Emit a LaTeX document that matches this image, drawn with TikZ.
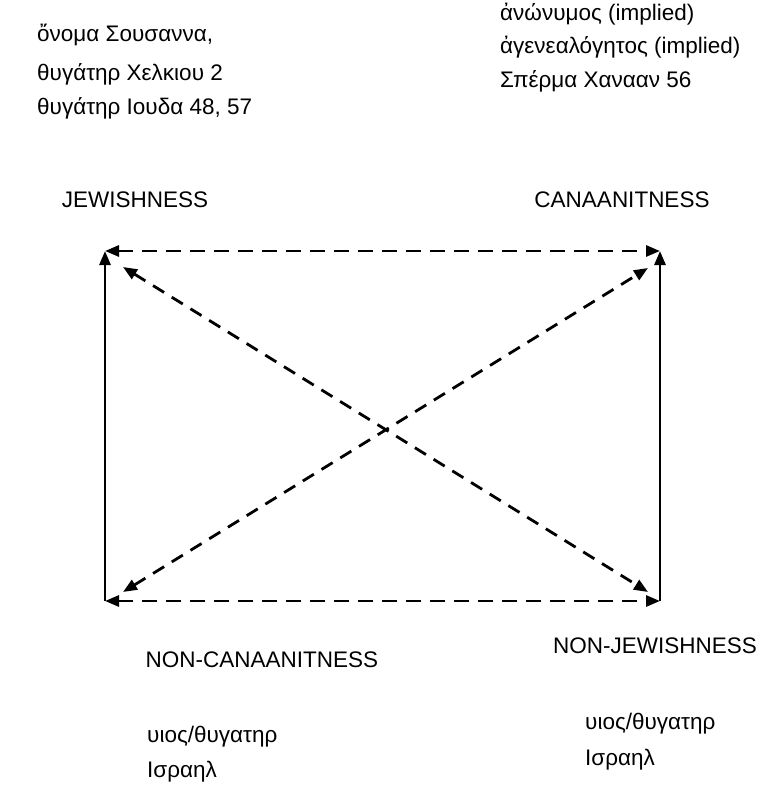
\documentclass[tikz,border=0pt]{standalone}
\usepackage{fontspec}
\setmainfont{Liberation Sans}
\usetikzlibrary{arrows.meta}
\begin{document}
\begin{tikzpicture}[x=1pt,y=-1pt,
  txt/.style={inner sep=0pt,anchor=west,font=\fontsize{22.5}{27}\selectfont},
  lbl/.style={inner sep=0pt,font=\fontsize{22.5}{27}\selectfont},
  tip/.style={-{Triangle[length=14pt,width=11pt]}},
  twotip/.style={{Triangle[length=14pt,width=11pt]}-{Triangle[length=14pt,width=11pt]}},
  edge/.style={line width=2.8pt},
  dashedge/.style={line width=2.8pt,dash pattern=on 15pt off 9pt},
  diagedge/.style={line width=2.8pt,dash pattern=on 13pt off 9pt}]
\useasboundingbox (0,0) rectangle (770,786);

% Greek descriptions above the square
\node[txt] (l1) at (37,35)  {ὄνομα Σουσαννα,};
\node[txt] (l2) at (37,74)  {θυγάτηρ Χελκιου 2};
\node[txt] (l3) at (37,108) {θυγάτηρ Ιουδα 48, 57};
\node[txt] (r1) at (500,14) {ἀνώνυμος (implied)};
\node[txt] (r2) at (500,47) {ἀγενεαλόγητος (implied)};
\node[txt] (r3) at (500,81) {Σπέρμα Χανααν 56};

% Corner labels
\node[lbl] (jew)  at (135,200) {JEWISHNESS};
\node[lbl] (can)  at (622,200) {CANAANITNESS};
\node[lbl] (ncan) at (262,660) {NON-CANAANITNESS};
\node[lbl] (njew) at (655,646) {NON-JEWISHNESS};

% Greek descriptions below the square
\node[txt] (b1) at (147,737) {υιος/θυγατηρ};
\node[txt] (b2) at (147,772) {Ισραηλ};
\node[txt] (b3) at (585,724) {υιος/θυγατηρ};
\node[txt] (b4) at (585,760) {Ισραηλ};

% Corners of the square
\coordinate (TL) at (105,251);
\coordinate (TR) at (660,251);
\coordinate (BL) at (105,601);
\coordinate (BR) at (660,601);
% Ends of the diagonals
\coordinate (dTL) at (123,267);
\coordinate (dBR) at (648,592);
\coordinate (dBL) at (123,592);
\coordinate (dTR) at (648,268);

% Sides
\draw[edge,tip] (BL) -- (TL);
\draw[edge,tip] (BR) -- (TR);
\draw[dashedge,twotip] (TL) -- (TR);
\draw[dashedge,twotip] (BL) -- (BR);
% Diagonals
\draw[diagedge,twotip] (dTL) -- (dBR);
\draw[diagedge,twotip] (dBL) -- (dTR);
\end{tikzpicture}
\end{document}
